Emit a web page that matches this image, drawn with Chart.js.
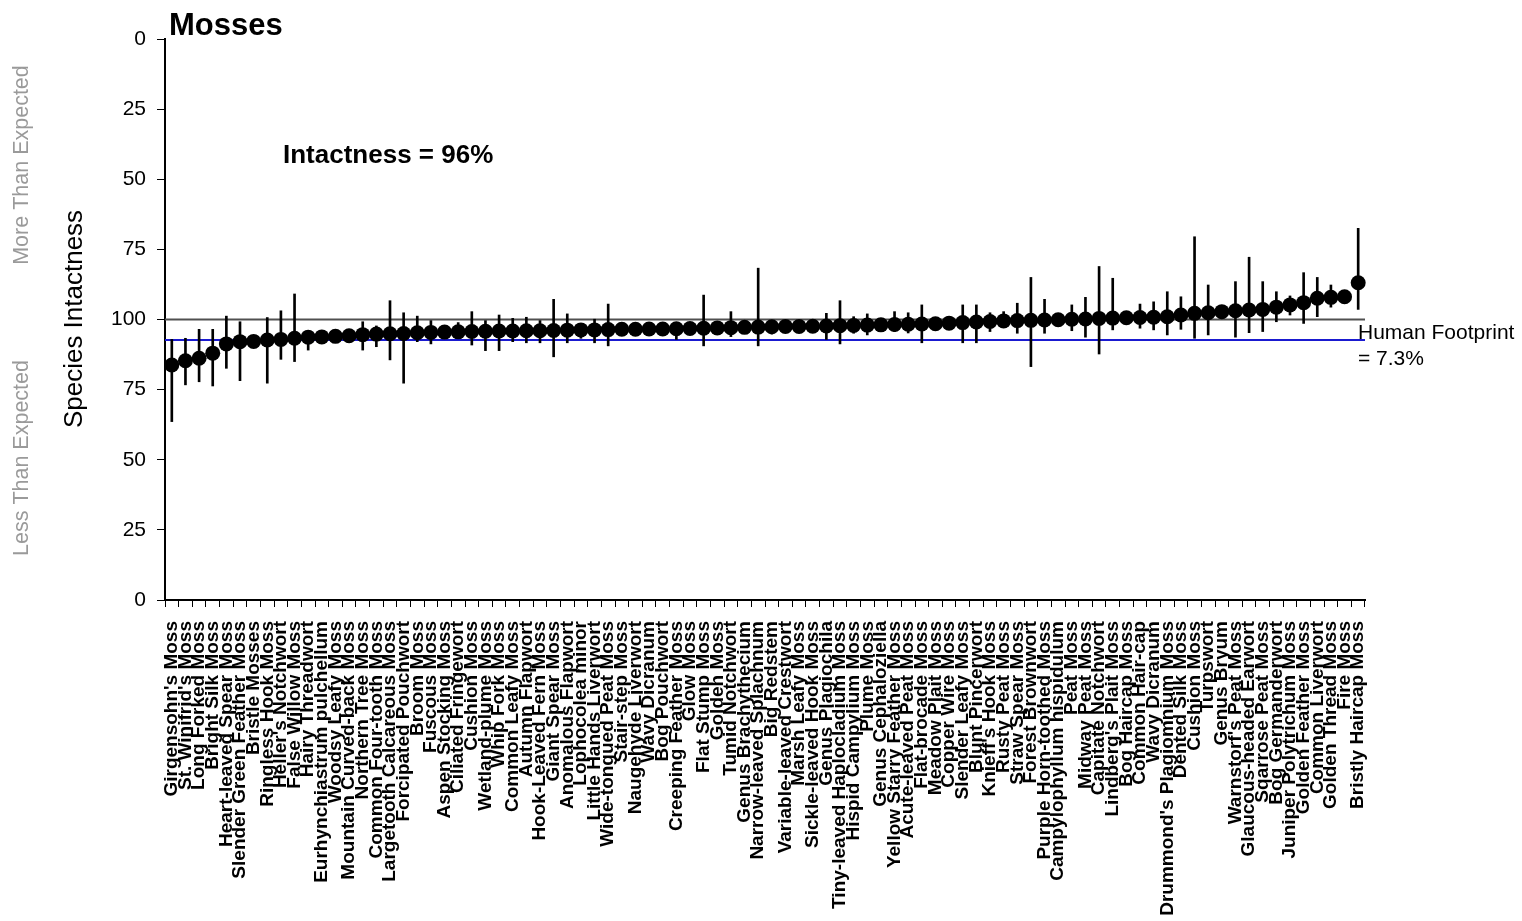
<!DOCTYPE html>
<html>
<head>
<meta charset="utf-8">
<script src="https://cdn.jsdelivr.net/npm/chart.js@4/dist/chart.umd.min.js"></script>
<style>
  html, body { margin: 0; padding: 0; background: #ffffff; }
  #wrap { width: 1522px; height: 921px; position: relative; }
</style>
</head>
<body>
<div id="wrap"><canvas id="c" width="1522" height="921"></canvas></div>
<script>
// Species, ordered by intactness
const categories = [
  "Girgensohn's Moss", "St. Winifrid's Moss", "Long Forked Moss", "Bright Silk Moss",
  "Heart-leaved Spear Moss", "Slender Green Feather Moss", "Bristle Mosses", "Ringless Hook Moss",
  "Heller's Notchwort", "False Willow Moss", "Hairy Threadwort", "Eurhynchiastrum pulchellum",
  "Woodsy Leafy Moss", "Mountain Curved-back Moss", "Northern Tree Moss", "Common Four-tooth Moss",
  "Largetooth Calcareous Moss", "Forcipated Pouchwort", "Broom Moss", "Fuscous Moss",
  "Aspen Stocking Moss", "Ciliated Fringewort", "Cushion Moss", "Wetland-plume Moss",
  "Whip Fork Moss", "Common Leafy Moss", "Autumn Flapwort", "Hook-Leaved Fern Moss",
  "Giant Spear Moss", "Anomalous Flapwort", "Lophocolea minor", "Little Hands Liverwort",
  "Wide-tongued Peat Moss", "Stair-step Moss", "Naugehyde Liverwort", "Wavy Dicranum",
  "Bog Pouchwort", "Creeping Feather Moss", "Glow Moss", "Flat Stump Moss",
  "Golden Moss", "Tumid Notchwort", "Genus Brachythecium", "Narrow-leaved Splachnum",
  "Big Redstem", "Variable-leaved Crestwort", "Marsh Leafy Moss", "Sickle-leaved Hook Moss",
  "Genus Plagiochila", "Tiny-leaved Haplocladium Moss", "Hispid Campylium Moss", "Plume Moss",
  "Genus Cephaloziella", "Yellow Starry Feather Moss", "Acute-leaved Peat Moss", "Flat-brocade Moss",
  "Meadow Plait Moss", "Copper Wire Moss", "Slender Leafy Moss", "Blunt Pincerwort",
  "Knieff's Hook Moss", "Rusty Peat Moss", "Straw Spear Moss", "Forest Brownwort",
  "Purple Horn-toothed Moss", "Campylophyllum hispidulum", "Peat Moss", "Midway Peat Moss",
  "Capitate Notchwort", "Lindberg's Plait Moss", "Bog Haircap Moss", "Common Hair-cap",
  "Wavy Dicranum", "Drummond's Plagiomnium Moss", "Dented Silk Moss", "Cushion Moss",
  "Turpswort", "Genus Bryum", "Warnstorf's Peat Moss", "Glaucous-headed Earwort",
  "Sqarrose Peat Moss", "Bog Germanderwort", "Juniper Polytrichum Moss", "Golden Feather Moss",
  "Common Liverwort", "Golden Thread Moss", "Fire Moss", "Bristly Haircap Moss"
];

// Intactness on a 0-200 scale (100 = as expected)
const intactness = [
  83.8, 85.3, 86.2, 88.0, 91.3, 92.1, 92.2, 92.7, 92.9, 93.3, 93.7, 93.8,
  94.0, 94.2, 94.6, 94.8, 94.9, 95.0, 95.3, 95.4, 95.5, 95.6, 95.7, 95.8,
  95.9, 95.9, 96.0, 96.0, 96.1, 96.2, 96.3, 96.3, 96.4, 96.5, 96.5, 96.6,
  96.6, 96.7, 96.8, 96.9, 97.0, 97.1, 97.2, 97.3, 97.4, 97.5, 97.5, 97.6,
  97.7, 97.8, 97.9, 98.0, 98.1, 98.2, 98.3, 98.4, 98.5, 98.7, 98.9, 99.1,
  99.3, 99.5, 99.6, 99.7, 99.8, 99.9, 100.1, 100.2, 100.4, 100.5, 100.6, 100.7,
  100.8, 101.0, 101.6, 102.2, 102.4, 102.8, 103.1, 103.4, 103.6, 104.4, 105.2, 106.0,
  107.6, 107.9, 108.1, 113.1
];

const lowerBound = [
  63.6, 76.7, 77.8, 76.3, 82.6, 78.2, 90.5, 77.3, 85.8, 85.0, 89.1, 92.0,
  92.2, 92.4, 89.1, 90.3, 85.6, 77.3, 92.1, 91.3, 93.6, 93.5, 90.9, 88.9,
  88.9, 92.1, 91.7, 91.7, 86.7, 91.7, 93.3, 91.7, 90.6, 94.6, 94.6, 94.7,
  94.7, 92.9, 94.9, 90.6, 95.1, 93.9, 95.3, 90.6, 94.8, 95.6, 95.6, 95.7,
  92.9, 91.3, 95.1, 94.5, 96.2, 95.7, 95.2, 91.7, 96.6, 96.8, 91.7, 91.7,
  95.7, 97.5, 95.1, 83.2, 95.1, 98.0, 96.0, 93.7, 87.7, 96.3, 98.7, 96.9,
  96.3, 94.5, 96.5, 93.3, 94.5, 100.9, 93.7, 95.3, 95.7, 99.2, 101.6, 98.6,
  101.0, 104.4, 106.2, 103.6
];

const upperBound = [
  92.9, 93.3, 96.5, 96.5, 101.2, 99.2, 94.0, 100.7, 103.1, 109.1, 95.8, 95.6,
  95.8, 96.0, 99.2, 97.7, 106.7, 102.4, 101.2, 99.6, 97.4, 98.9, 102.8, 99.6,
  101.6, 100.4, 100.8, 99.6, 107.2, 102.0, 98.5, 100.1, 105.5, 98.4, 98.4, 98.5,
  98.5, 98.6, 98.7, 108.7, 98.9, 102.8, 99.1, 118.3, 99.3, 99.4, 99.4, 99.5,
  102.2, 106.7, 101.0, 102.0, 100.0, 102.8, 102.4, 105.2, 100.4, 100.6, 105.2, 105.2,
  102.4, 102.8, 105.8, 115.0, 107.2, 101.8, 105.2, 107.9, 118.9, 114.7, 102.5, 105.5,
  106.3, 109.9, 108.1, 129.5, 112.3, 104.7, 113.5, 122.2, 113.5, 109.9, 108.4, 116.7,
  115.0, 112.3, 109.6, 132.5
];

// Axis tick values (scale runs 0-200; labels fold back above 100)
const yTicks = [0, 25, 50, 75, 100, 125, 150, 175, 200];

const expectedLevel = 100;          // intactness as expected
const humanFootprintPct = 7.3;      // footprint shown as a blue line
const overallIntactnessPct = 96;

const FONT = "'Liberation Sans', Arial, sans-serif";

const annotations = {
  id: 'annotations',
  beforeDatasetsDraw(chart) {
    const { ctx, chartArea, scales } = chart;
    const y = scales.y;
    ctx.save();
    // expected line
    let py = y.getPixelForValue(expectedLevel);
    ctx.strokeStyle = '#505050';
    ctx.lineWidth = 2;
    ctx.beginPath();
    ctx.moveTo(chartArea.left, py);
    ctx.lineTo(chartArea.right, py);
    ctx.stroke();
    // human footprint line
    py = y.getPixelForValue(expectedLevel - humanFootprintPct);
    ctx.strokeStyle = '#1a1ad0';
    ctx.lineWidth = 2;
    ctx.beginPath();
    ctx.moveTo(chartArea.left, py);
    ctx.lineTo(chartArea.right, py);
    ctx.stroke();
    ctx.restore();
  },
  afterDraw(chart) {
    const { ctx, chartArea, scales } = chart;
    const y = scales.y;
    ctx.save();
    ctx.fillStyle = '#000';
    ctx.textBaseline = 'middle';
    ctx.textAlign = 'left';

    ctx.font = 'bold 31px ' + FONT;
    ctx.fillText('Mosses', 169, 26);

    ctx.font = 'bold 26px ' + FONT;
    ctx.fillText('Intactness = ' + overallIntactnessPct + '%', 283, 156);

    ctx.font = '21px ' + FONT;
    const fy = y.getPixelForValue(expectedLevel - humanFootprintPct);
    ctx.fillText('Human Footprint', chartArea.right - 7, fy - 7);
    ctx.fillText('= ' + humanFootprintPct + '%', chartArea.right - 7, fy + 19);

    // side captions
    ctx.textAlign = 'center';
    ctx.save();
    ctx.translate(75, 319);
    ctx.rotate(-Math.PI / 2);
    ctx.font = '26px ' + FONT;
    ctx.fillStyle = '#000';
    ctx.fillText('Species Intactness', 0, 0);
    ctx.restore();

    ctx.font = '21.5px ' + FONT;
    ctx.fillStyle = '#9a9a9a';
    ctx.save();
    ctx.translate(22, 165);
    ctx.rotate(-Math.PI / 2);
    ctx.fillText('More Than Expected', 0, 0);
    ctx.restore();
    ctx.save();
    ctx.translate(22, 458);
    ctx.rotate(-Math.PI / 2);
    ctx.fillText('Less Than Expected', 0, 0);
    ctx.restore();
    ctx.restore();
  }
};

new Chart(document.getElementById('c'), {
  type: 'bar',
  data: {
    labels: categories,
    datasets: [
      {
        type: 'line',
        label: 'Intactness',
        data: intactness,
        showLine: false,
        pointRadius: 7.5,
        pointHoverRadius: 7.5,
        pointBackgroundColor: '#000',
        pointBorderColor: '#000',
        pointBorderWidth: 0,
        order: 0
      },
      {
        type: 'bar',
        label: 'Range',
        data: lowerBound.map((lo, i) => [lo, upperBound[i]]),
        backgroundColor: '#000',
        borderWidth: 0,
        barThickness: 2,
        grouped: false,
        order: 1
      }
    ]
  },
  options: {
    responsive: false,
    animation: false,
    events: [],
    layout: { padding: { top: 39, right: 157, bottom: 0, left: 0 } },
    plugins: {
      legend: { display: false },
      tooltip: { enabled: false }
    },
    scales: {
      x: {
        type: 'category',
        offset: true,
        grid: { display: true, drawOnChartArea: false, tickLength: 7, color: '#000', lineWidth: 1 },
        border: { color: '#000', width: 2 },
        ticks: {
          autoSkip: false,
          maxRotation: 90,
          minRotation: 90,
          padding: 14,
          color: '#000',
          font: { family: FONT, size: 19, weight: 'bold' }
        },
        afterFit(scale) { scale.height = 321; }
      },
      y: {
        type: 'linear',
        min: 0,
        max: 200,
        afterBuildTicks(scale) { scale.ticks = yTicks.map(v => ({ value: v })); },
        grid: { display: true, drawOnChartArea: false, tickLength: 8, color: '#000', lineWidth: 1 },
        border: { color: '#000', width: 2 },
        ticks: {
          padding: 11,
          color: '#000',
          font: { family: FONT, size: 21 },
          callback: v => (v <= 100 ? v : 200 - v)
        },
        afterFit(scale) { scale.width = 165; }
      }
    }
  },
  plugins: [annotations]
});
</script>
</body>
</html>
